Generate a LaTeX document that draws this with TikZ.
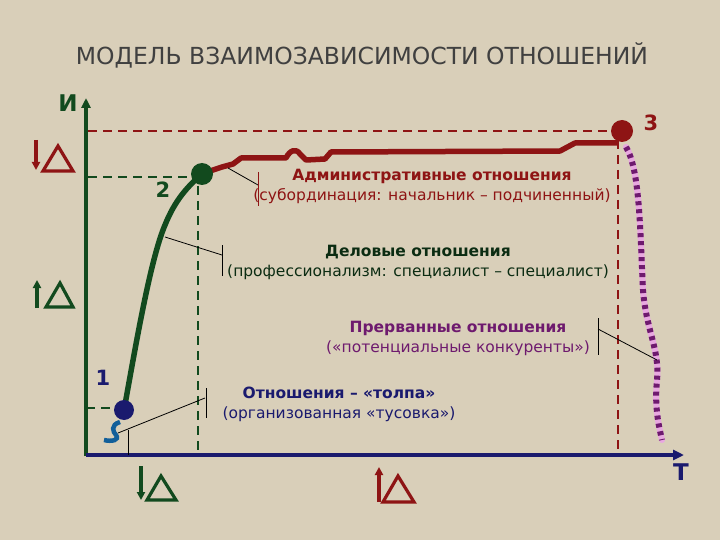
\documentclass[tikz,border=0pt]{standalone}
\usepackage{fontspec}
\setmainfont{DejaVu Sans}
\usetikzlibrary{arrows.meta}
\definecolor{bg}{HTML}{D9CFB9}
\definecolor{dred}{HTML}{8E1414}
\definecolor{dgreen}{HTML}{124A1E}
\definecolor{navy}{HTML}{1A1A6E}
\definecolor{purp}{HTML}{6E1A6E}
\definecolor{pink}{HTML}{E8A8E0}
\tikzset{
  lbl/.style={font=\fontsize{15.5}{20}\selectfont, align=center, inner sep=0pt},
  num/.style={font=\bfseries\fontsize{21}{21}\selectfont, inner sep=0pt},
  ptr/.style={black, line width=0.8pt},
  dsh/.style={dashed, dash pattern=on 9pt off 6pt, line width=1.8pt},
  tri/.style={line width=3.2pt, line join=miter},
  arr/.style={line width=3.2pt, -{Triangle[length=8pt,width=8pt]}}
}
\begin{document}
\begin{tikzpicture}[x=1pt,y=-1pt]
\fill[bg] (0,0) rectangle (720,540);
\useasboundingbox (0,0) rectangle (720,540);
\node[font=\fontsize{23.5}{24}\selectfont, text=black!75] (title) at (362,55) {МОДЕЛЬ ВЗАИМОЗАВИСИМОСТИ ОТНОШЕНИЙ};
% guides
\draw[dsh, dred] (88,131) -- (612,131);
\draw[dsh, dred] (618,140) -- (618,455);
\draw[dsh, dgreen] (88,177) -- (192,177);
\draw[dsh, dgreen] (198,186) -- (198,455);
\draw[dsh, dgreen] (86,408) -- (115,408);
% axes
\draw[dgreen, line width=3.2pt, -{Triangle[length=10pt,width=9pt]}] (86,456) -- (86,98);
\draw[navy, line width=4pt, -{Triangle[length=11pt,width=10pt]}] (86,455) -- (684,455);
\node[num, text=dgreen, font=\bfseries\fontsize{23}{23}\selectfont] (I) at (68,103) {И};
\node[num, text=navy, font=\bfseries\fontsize{23}{23}\selectfont] (T) at (681,472) {Т};
% curves
\draw[dgreen, line width=5.5pt, line cap=round] (124,410) .. controls (135,350) and (150,260) .. (165,225) .. controls (175,200) and (188,186) .. (202,174);
\draw[dred, line width=5.5pt, line join=round] (210,171) -- (222,167) -- (233,164) -- (241,158) -- (286,158) .. controls (290,150) and (296,148) .. (300,154) -- (306,160) -- (325,159) -- (331,152) -- (560,151) -- (575,143) -- (618,143);
\draw[pink, line width=6pt, line cap=round] (626,147) .. controls (640,170) and (640,230) .. (643,290) .. controls (646,330) and (660,350) .. (657,380) .. controls (654,410) and (660,430) .. (662,440);
\draw[purp, line width=6pt, dash pattern=on 4pt off 4pt] (626,147) .. controls (640,170) and (640,230) .. (643,290) .. controls (646,330) and (660,350) .. (657,380) .. controls (654,410) and (660,430) .. (662,440);
\draw[navy!70!cyan, line width=4.5pt] (120,422) .. controls (110,425) and (113,432) .. (116,435) .. controls (120,440) and (112,442) .. (104,440);
% points
\fill[dgreen] (202,174) circle (11) node (p2) {};
\fill[dred] (622,131) circle (11) node (p3) {};
\fill[navy] (124,410) circle (10) node (p1) {};
\node[num, text=dgreen] (n2) at (163,190) {2};
\node[num, text=dred] (n3) at (651,123) {3};
\node[num, text=navy] (n1) at (103,378) {1};
% pointers
\draw[ptr] (228,168) -- (258,185); \draw[ptr, dred] (258,172) -- (258,206);
\draw[ptr] (165,237) -- (222,255); \draw[ptr] (222,245) -- (222,276);
\draw[ptr] (598,329) -- (657,360); \draw[ptr] (598,318) -- (598,355);
\draw[ptr] (118,433) -- (205,398); \draw[ptr] (206,388) -- (206,418);
\draw[ptr] (128,430) -- (128,455);
% labels
\node[lbl, text=dred] (adm) at (432,186) {\textbf{Административные отношения}\\(субординация: начальник – подчиненный)};
\node[lbl, text=dgreen!60!black] (del) at (418,262) {\textbf{Деловые отношения}\\(профессионализм: специалист – специалист)};
\node[lbl, text=purp] (prv) at (458,338) {\textbf{Прерванные отношения}\\(«потенциальные конкуренты»)};
\node[lbl, text=navy] (tol) at (339,404) {\textbf{Отношения – «толпа»}\\(организованная «тусовка»)};
% delta signs
\draw[arr, dred] (36,140) -- (36,170);
\draw[tri, dred] (58,146) -- (73,171) -- (43,171) -- cycle;
\draw[arr, dgreen] (37,308) -- (37,280);
\draw[tri, dgreen] (60,283) -- (73,307) -- (46,307) -- cycle;
\draw[arr, dgreen] (141,466) -- (141,500);
\draw[tri, dgreen] (161,476) -- (176,500) -- (147,500) -- cycle;
\draw[arr, dred] (379,502) -- (379,467);
\draw[tri, dred] (398,476) -- (414,502) -- (383,502) -- cycle;
\end{tikzpicture}
\end{document}
